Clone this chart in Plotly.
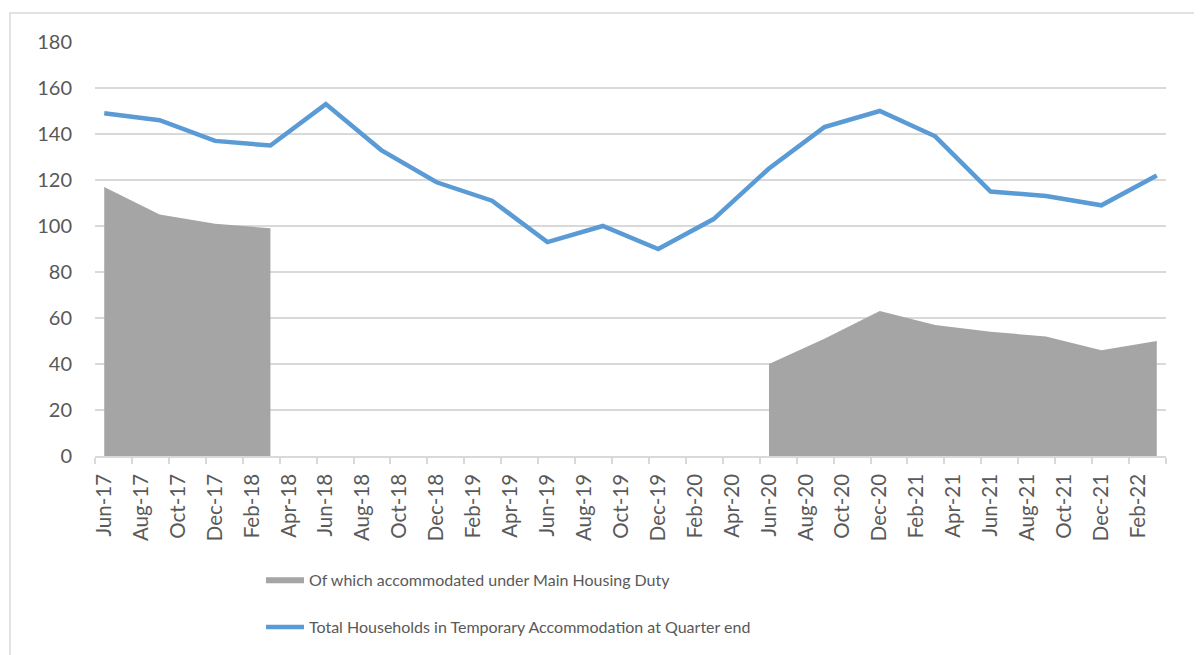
import pandas as pd
import plotly.graph_objects as go

# Quarter-end dates (data points)
quarters = ["Jun-17", "Sep-17", "Dec-17", "Mar-18", "Jun-18", "Sep-18", "Dec-18", "Mar-19",
            "Jun-19", "Sep-19", "Dec-19", "Mar-20", "Jun-20", "Sep-20", "Dec-20", "Mar-21",
            "Jun-21", "Sep-21", "Dec-21", "Mar-22"]
total_households = [149, 146, 137, 135, 153, 133, 119, 111, 93, 100, 90, 103,
                    125, 143, 150, 139, 115, 113, 109, 122]
main_housing_duty = [117, 105, 101, 99, None, None, None, None, None, None, None, None,
                     40, 51, 63, 57, 54, 52, 46, 50]

# Axis tick labels (every two months)
tick_labels = ["Jun-17", "Aug-17", "Oct-17", "Dec-17", "Feb-18", "Apr-18", "Jun-18", "Aug-18",
               "Oct-18", "Dec-18", "Feb-19", "Apr-19", "Jun-19", "Aug-19", "Oct-19", "Dec-19",
               "Feb-20", "Apr-20", "Jun-20", "Aug-20", "Oct-20", "Dec-20", "Feb-21", "Apr-21",
               "Jun-21", "Aug-21", "Oct-21", "Dec-21", "Feb-22"]

start = pd.to_datetime(quarters[0], format="%b-%y")


def month_index(label):
    d = pd.to_datetime(label, format="%b-%y")
    return (d.year - start.year) * 12 + (d.month - start.month)


xq = [month_index(q) for q in quarters]
xt = [month_index(t) for t in tick_labels]

# split the area series into contiguous runs (empty cells = gaps)
segments, cur = [], []
for x, v in zip(xq, main_housing_duty):
    if v is None:
        if cur:
            segments.append(cur)
        cur = []
    else:
        cur.append((x, v))
if cur:
    segments.append(cur)

FONT = "Lato, 'Open Sans', sans-serif"
TXT = "#595959"
GRID = "#d9d9d9"

fig = go.Figure()
for i, seg in enumerate(segments):
    fig.add_trace(go.Scatter(
        x=[p[0] for p in seg], y=[p[1] for p in seg], mode="lines", fill="tozeroy",
        fillcolor="#A5A5A5", line=dict(width=0, color="#A5A5A5"),
        legendgroup="a", showlegend=(i == 0),
        name="Of which accommodated under Main Housing Duty"))
fig.add_trace(go.Scatter(
    x=xq, y=total_households, mode="lines",
    line=dict(width=4.5, color="#5B9BD5"), legendgroup="b",
    name="Total Households in Temporary Accommodation at Quarter end"))

fig.update_layout(
    width=1194, height=647,
    margin=dict(l=87, r=36, t=34, b=198),
    paper_bgcolor="white", plot_bgcolor="white",
    font=dict(family=FONT, size=18, color=TXT),
    showlegend=True,
    legend=dict(orientation="v", x=0.155, xanchor="left", y=-0.254, yanchor="top",
                tracegroupgap=24, itemwidth=38,
                font=dict(family=FONT, size=16, color=TXT),
                bgcolor="rgba(0,0,0,0)"),
    shapes=[dict(type="rect", xref="paper", yref="paper",
                 x0=-0.0794, x1=1.2, y0=-0.7, y1=1.07,
                 line=dict(color=GRID, width=1.5), layer="below")],
)
fig.update_xaxes(
    range=[xq[0] - 0.5, xq[-1] + 0.5],
    tickmode="array", tickvals=xt, ticktext=tick_labels,
    tickangle=-90, ticks="", tickfont=dict(size=20.5, color=TXT),
    ticklabelstandoff=8,
    showgrid=False, showline=True, linecolor=GRID, linewidth=1.5,
    zeroline=False,
    minor=dict(tick0=-0.5, dtick=2, ticks="outside", ticklen=6,
               tickcolor=GRID, tickwidth=1.5, showgrid=False),
)
fig.update_yaxes(
    range=[0, 180], dtick=20, showgrid=True, gridcolor=GRID, gridwidth=1.5,
    zeroline=False, showline=False, ticks="", ticklabelstandoff=22,
    tickfont=dict(size=20, color=TXT),
)

fig.write_html("out.html")
